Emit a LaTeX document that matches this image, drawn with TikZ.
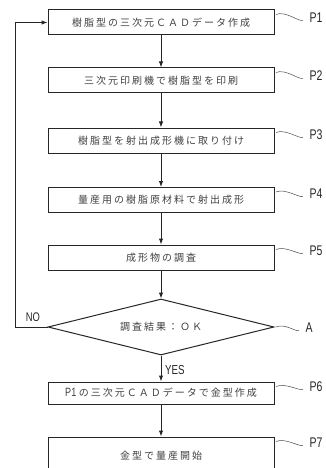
\documentclass[tikz,border=0pt]{standalone}
\usepackage{fontspec}
\usepackage{tikz}
\usetikzlibrary{shapes.geometric,arrows.meta}
\newfontfamily\jpfont[LetterSpace=20]{Noto Sans CJK JP}
\newfontfamily\tagfont[FakeStretch=0.75]{Liberation Sans}

\tikzset{
  stepbox/.style = {draw, line width=1pt, black!85, minimum width=226pt, minimum height=25pt,
    inner sep=0pt, font=\jpfont\fontsize{10}{10}\selectfont, text=black!75},
  checkbox/.style = {draw, diamond, aspect=4, line width=1pt, black!85, minimum width=226pt,
    minimum height=56pt, inner sep=0pt, font=\jpfont\fontsize{10}{10}\selectfont, text=black!75},
  flow/.style = {line width=1pt, black!85, -{Latex[length=6pt,width=4.5pt]}},
  tag/.style = {font=\tagfont\fontsize{14}{14}\selectfont, text=black!85, inner sep=1pt},
  lead/.style = {line width=0.5pt, black!70, shorten >=6pt}
}

\begin{document}
\begin{tikzpicture}[x=1pt, y=-1pt]
      \useasboundingbox (0,0) rectangle (326,468);

      % steps
      \node[stepbox] (p1) at (161,22.5) {樹脂型の三次元ＣＡＤデータ作成};
      \node[stepbox] (p2) at (161,80.5) {三次元印刷機で樹脂型を印刷};
      \node[stepbox] (p3) at (161,140.5) {樹脂型を射出成形機に取り付け};
      \node[stepbox] (p4) at (161,200) {量産用の樹脂原材料で射出成形};
      \node[stepbox] (p5) at (161,257.5) {成形物の調査};
      \node[checkbox] (a) at (161,327) {調査結果：ＯＫ};
      \node[stepbox, minimum height=22pt] (p6) at (161,393) {\tagfont\fontsize{12}{12}\selectfont P1 \jpfont\fontsize{10}{10}\selectfont の三次元ＣＡＤデータで金型作成};
      \node[stepbox, minimum height=38pt] (p7) at (161,456) {金型で量産開始};

      % tags
      \node[tag] (lp1) at (316,18) {P1};
      \node[tag] (lp2) at (316,76) {P2};
      \node[tag] (lp3) at (316,135) {P3};
      \node[tag] (lp4) at (316,194) {P4};
      \node[tag] (lp5) at (316,251) {P5};
      \node[tag] (la) at (309,328) {A};
      \node[tag] (lp6) at (316,387) {P6};
      \node[tag] (lp7) at (316,443) {P7};

      % arrows
      \draw[flow] (p1) -- (p2);
      \draw[flow] (p2) -- (p3);
      \draw[flow] (p3) -- (p4);
      \draw[flow] (p4) -- (p5);
      \draw[flow] (p5) -- (a);
      \draw[flow] (a) -- (p6);
      \draw[flow] (p6) -- (p7);

      \coordinate (back) at (15,327);
      \draw[flow] (a.west) -- (back) |- (p1.west);
      \node[tag, font=\tagfont\fontsize{12.5}{12.5}\selectfont] (no) at (33,317) {NO};
      \node[tag, font=\tagfont\fontsize{13}{13}\selectfont, anchor=west] (yes) at (164,370) {YES};

      % leaders
      \foreach \b in {p1,p2,p3,p4,p5,p6,p7}
        \draw[lead] ([xshift=1.5pt,yshift=-5pt]\b.north east) .. controls +(9,-4) and +(-9,4) .. (l\b.west);
      \draw[lead] ([xshift=1.5pt]a.east) .. controls +(9,-4) and +(-9,4) .. (la.west);
\end{tikzpicture}
\end{document}
